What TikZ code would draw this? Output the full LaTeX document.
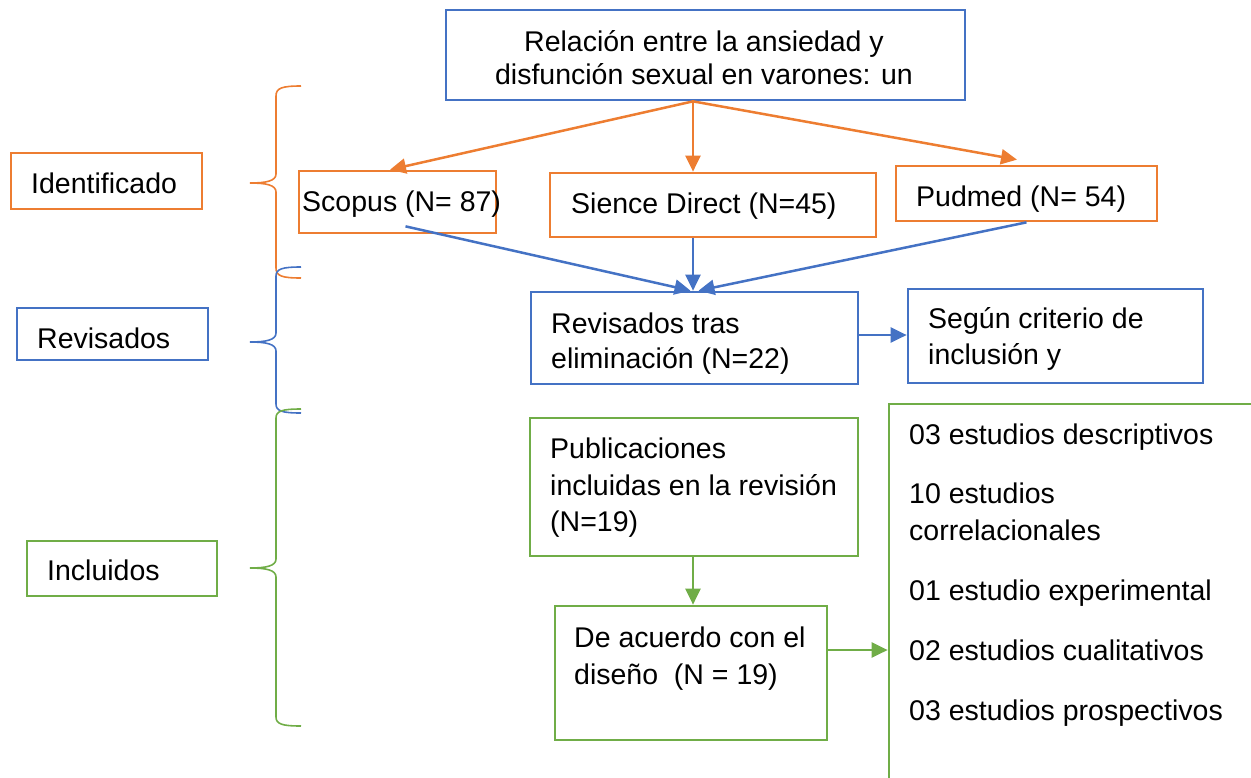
\documentclass[tikz,border=0pt]{standalone}
\usepackage{fontspec}
\setmainfont{Liberation Sans}
\usetikzlibrary{arrows.meta}
\definecolor{cor}{HTML}{ED7D31}
\definecolor{cbl}{HTML}{4472C4}
\definecolor{cgr}{HTML}{70AD47}
\tikzset{
  box/.style={draw=#1, line width=2.7pt, rectangle, inner sep=0pt},
  lbl/.style={anchor=base west, inner sep=0pt, font=\fontsize{28.5}{34}\selectfont, text=black},
  arr/.style={draw=#1, line width=2.5pt, -{Triangle[length=16pt,width=15pt]}, #1},
  brace/.style={draw=#1, line width=1.6pt}
}
\begin{document}
\begin{tikzpicture}[x=1pt,y=-1pt]
\useasboundingbox (0,0) rectangle (1251,777);
\clip (0,0) rectangle (1251,777);
% boxes
\node[box=cbl, minimum width=519pt, minimum height=90pt] (title) at (705.5,55) {};
\node[box=cor, minimum width=191pt, minimum height=56pt] (ident) at (106.5,181) {};
\node[box=cbl, minimum width=191pt, minimum height=52pt] (revl) at (112.5,334) {};
\node[box=cgr, minimum width=190pt, minimum height=55pt] (incl) at (122,568.5) {};
\node[box=cor, minimum width=197pt, minimum height=62pt] (scopus) at (397.5,202) {};
\node[box=cor, minimum width=326pt, minimum height=64pt] (sience) at (713,205) {};
\node[box=cor, minimum width=261pt, minimum height=55pt] (pudmed) at (1026.5,193.5) {};
\node[box=cbl, minimum width=327pt, minimum height=92pt] (rev) at (694.5,338) {};
\node[box=cbl, minimum width=295pt, minimum height=94pt] (seg) at (1055.5,336) {};
\node[box=cgr, minimum width=328pt, minimum height=138pt] (pub) at (694,487) {};
\node[box=cgr, minimum width=272pt, minimum height=134pt] (acu) at (691,673) {};
\node[box=cgr, minimum width=511pt, minimum height=496pt] (res) at (1144.5,652) {};
% texts
\node[anchor=base, inner sep=0pt, font=\fontsize{28.5}{34}\selectfont] (t1) at (704,51) {Relación entre la ansiedad y};
\node[anchor=base, inner sep=0pt, font=\fontsize{28.5}{34}\selectfont] (t2) at (704,84) {disfunción sexual en varones: un};
\node[lbl] (identt) at (31,193) {Identificado};
\node[lbl] (revlt) at (37,348) {Revisados};
\node[lbl] (inclt) at (47,580) {Incluidos};
\node[lbl] (scopust) at (302,211) {Scopus (N= 87)};
\node[lbl] (siencet) at (571,213) {Sience Direct (N=45)};
\node[lbl] (pudmedt) at (916,206) {Pudmed (N= 54)};
\node[lbl] (revt1) at (551,333) {Revisados tras};
\node[lbl] (revt2) at (551,368) {eliminación (N=22)};
\node[lbl] (segt1) at (928,328) {Según criterio de};
\node[lbl] (segt2) at (928,364) {inclusión y};
\node[lbl] (pubt1) at (550,458) {Publicaciones};
\node[lbl] (pubt2) at (550,495) {incluidas en la revisión};
\node[lbl] (pubt3) at (550,531) {(N=19)};
\node[lbl] (acut1) at (574,647) {De acuerdo con el};
\node[lbl] (acut2) at (574,684) {diseño~ (N = 19)};
\node[lbl] (r1) at (909,444) {03 estudios descriptivos};
\node[lbl] (r2) at (909,503) {10 estudios};
\node[lbl] (r3) at (909,540) {correlacionales};
\node[lbl] (r4) at (909,600) {01 estudio experimental};
\node[lbl] (r5) at (909,660) {02 estudios cualitativos};
\node[lbl] (r6) at (909,720) {03 estudios prospectivos};
% orange arrows
\draw[arr=cor] ([xshift=-12.5pt]title.south) -- ([xshift=-7.5pt]scopus.north);
\draw[arr=cor] ([xshift=-12.5pt]title.south) -- ([xshift=-20pt]sience.north);
\draw[arr=cor] ([xshift=-12.5pt]title.south) -- ([xshift=-9.5pt,yshift=5pt]pudmed.north);
% blue arrows
\draw[arr=cbl] ([xshift=8pt,yshift=8pt]scopus.south) -- ([xshift=-4pt]rev.north);
\draw[arr=cbl] ([xshift=-20pt]sience.south) -- ([xshift=-1.5pt]rev.north);
\draw[arr=cbl] (pudmed.south) -- ([xshift=4pt]rev.north);
\draw[arr=cbl] ([yshift=3pt]rev.east) -- ([yshift=3pt]rev.east -| seg.west);
% green arrows
\draw[arr=cgr] ([xshift=-1pt]pub.south) -- ([xshift=-1pt]pub.south |- acu.north);
\draw[arr=cgr] ([yshift=23pt]acu.east) -- ([yshift=23pt]acu.east -| res.west);
% braces
\coordinate (b1) at (250,183);
\coordinate (b2) at (250,342);
\coordinate (b3) at (250,568);
\draw[brace=cor] (301,86) .. controls (282,86) and (276,88) .. (276,96) -- (276,174) .. controls (276,181) and (266,183) .. (b1) .. controls (266,183) and (276,185) .. (276,192) -- (276,268) .. controls (276,276) and (282,278) .. (301,278);
\draw[brace=cbl] (301,267) .. controls (282,267) and (276,269) .. (276,276) -- (276,333) .. controls (276,340) and (266,342) .. (b2) .. controls (266,342) and (276,344) .. (276,351) -- (276,404) .. controls (276,411) and (282,413) .. (301,413);
\draw[brace=cgr] (301,409) .. controls (282,409) and (276,411) .. (276,418) -- (276,559) .. controls (276,566) and (266,568) .. (b3) .. controls (266,568) and (276,570) .. (276,577) -- (276,717) .. controls (276,724) and (282,726) .. (301,726);
\end{tikzpicture}
\end{document}
